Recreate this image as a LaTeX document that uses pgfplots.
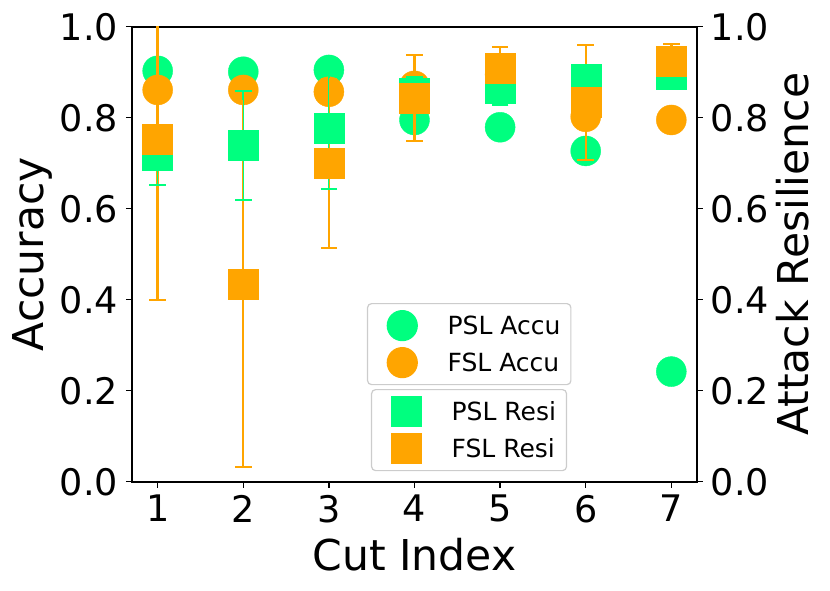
\documentclass[border=0pt]{standalone}
\usepackage{fontspec}
\setmainfont{DejaVu Sans}
\usepackage{pgfplots}
\pgfplotsset{compat=1.18}
\usepackage{pgfplotstable}
\definecolor{psl}{HTML}{00FF7F}
\definecolor{fsl}{HTML}{FFA500}

\pgfplotstableread{
x pa fa
1 0.903 0.861
2 0.901 0.861
3 0.905 0.857
4 0.795 0.870
5 0.779 0.895
6 0.727 0.802
7 0.242 0.795
}\accu

\pgfplotstableread{
x pr pe fr fe
1 0.717 0.065 0.753 0.354
2 0.739 0.120 0.434 0.402
3 0.776 0.132 0.700 0.186
4 0.854 0.036 0.843 0.094
5 0.865 0.037 0.909 0.046
6 0.885 0.012 0.833 0.126
7 0.896 0.022 0.924 0.038
}\resi

\pgfplotsset{
  base/.style={
    scale only axis, width=565pt, height=455pt,
    xmin=0.7, xmax=7.3, ymin=0, ymax=1,
    at={(0,0)}, anchor=south west,
    xtick={1,2,3,4,5,6,7},
    ytick={0,0.2,0.4,0.6,0.8,1},
    tick align=outside, major tick length=6pt,
    every tick/.style={black, line width=1.3pt},
    axis line style={line width=1.6pt},
    tick label style={font=\fontsize{36.6}{44}\selectfont},
    /pgf/number format/assume math mode=true,
    yticklabel style={/pgf/number format/fixed, /pgf/number format/fixed zerofill, /pgf/number format/precision=1},
    legend image code/.code={\path[draw=none,fill=none] (-24.2pt,-15pt) rectangle (45.3pt,15pt); \draw[##1] plot coordinates {(0pt,0pt)};},
    legend cell align=left,
  },
  leg/.style={legend style={at={#1}, anchor=north west, draw=black!20, line width=1.2pt,
      rounded corners=4pt, fill=white, inner xsep=10.5pt, inner ysep=7pt, row sep=7pt,
      font=\fontsize{25}{30}\selectfont, nodes={inner sep=0pt, anchor=west}}},
  ebar/.style={forget plot, draw=none, mark=none, color=#1, line width=2.4pt,
    error bars/.cd, y dir=both, y explicit, error mark=-,
    error bar style={draw=#1, solid, line width=2.4pt},
    error mark options={rotate=90, draw=#1, line width=1.8pt, mark size=8.3pt}},
  ecap/.style={forget plot, draw=none, mark=none, color=#1, line width=1.8pt,
    error bars/.cd, y dir=both, y explicit, error mark=-,
    error bar style={draw=none, line width=0pt},
    error mark options={rotate=90, draw=#1, line width=1.8pt, mark size=8.3pt}},
}

\begin{document}
\begin{tikzpicture}
\path[use as bounding box] (-132pt,-108.3pt) rectangle (698pt,481.7pt);
\begin{axis}[base,
  ytick pos=left, xtick pos=bottom,
  xlabel={Cut Index}, ylabel={Accuracy},
  every axis x label/.style={at={(axis description cs:0.5,-0.1941)}, anchor=base, font=\fontsize{42.5}{52}\selectfont},
  every axis y label/.style={at={(axis description cs:-0.1575,0.5)}, rotate=90, anchor=base, font=\fontsize{42.5}{52}\selectfont},
  xticklabel style={inner sep=0pt, anchor=north, yshift=-7.3pt},
  yticklabel style={inner sep=0pt, anchor=east, xshift=-7.7pt},
  leg={(0.4159,0.3927)},
]
\addplot[only marks, mark=*, mark size=15pt, color=psl] table[x=x,y=pa]{\accu};
\addlegendentry{PSL Accu}
\addplot[only marks, mark=*, mark size=15pt, color=fsl] table[x=x,y=fa]{\accu};
\addlegendentry{FSL Accu}
\end{axis}
\begin{axis}[base,
  axis x line=none, axis y line*=right,
  ytick pos=right, yticklabel pos=right,
  ylabel={Attack Resilience},
  every axis y label/.style={at={(axis description cs:1.1965,0.5)}, rotate=90, anchor=base, font=\fontsize{42.5}{52}\selectfont},
  yticklabel style={inner sep=0pt, anchor=west, xshift=7.7pt},
  leg={(0.4230,0.2037)},
]
\addplot[only marks, mark=square*, mark size=15pt, color=psl] table[x=x,y=pr]{\resi};
\addlegendentry{PSL Resi}
\addplot[only marks, mark=square*, mark size=15pt, color=fsl] table[x=x,y=fr]{\resi};
\addlegendentry{FSL Resi}
\addplot[ebar=psl] table[x=x,y=pr,y error=pe]{\resi};
\addplot[ebar=fsl] table[x=x,y=fr,y error=fe]{\resi};
\addplot[ecap=psl] table[x=x,y=pr,y error=pe]{\resi};
\end{axis}
\end{tikzpicture}
\end{document}
